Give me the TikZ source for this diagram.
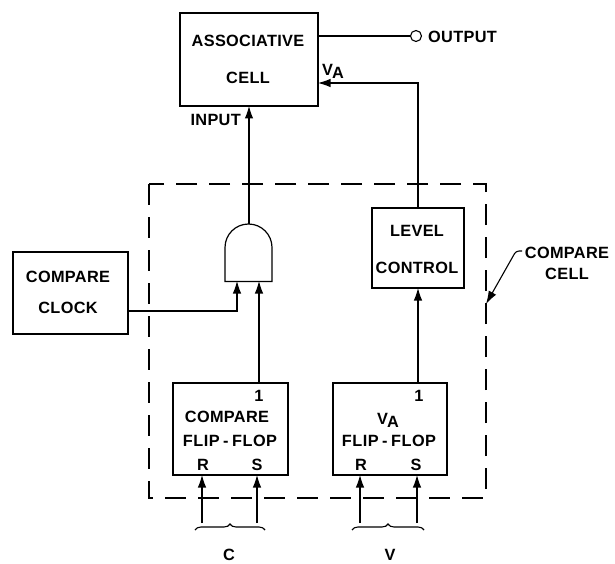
\documentclass[tikz,border=0pt]{standalone}
\usepackage{fontspec}
\setmainfont{Liberation Sans}
\usetikzlibrary{arrows.meta,decorations.pathreplacing,calc}
\newcommand{\flipflop}{{\addfontfeature{LetterSpace=3}FLIP\kern3.5pt-\kern3.5pt FLOP}}
\tikzset{
  blockbox/.style={draw,line width=1.2pt,inner sep=0pt,outer sep=0pt},
  lbl/.style={inner sep=0pt,font=\fontsize{16.3}{18}\selectfont\bfseries\addfontfeature{LetterSpace=2},align=center},
  wire/.style={line width=1.1pt},
  arrowed/.style={line width=1.1pt,-{Latex[length=12.5pt,width=8.5pt]}},
  dashbox/.style={line width=1.1pt,dash pattern=on 21pt off 12pt},
  bracket/.style={line width=1.1pt,decorate,decoration={brace,amplitude=6pt,mirror}}
}
\begin{document}
\begin{tikzpicture}[x=1pt,y=-1pt]
\useasboundingbox (0,0) rectangle (615,564);
\fill[white] (0,0) rectangle (615,564);
% dashed compare cell
\node[inner sep=0pt,outer sep=0pt,minimum width=337pt,minimum height=314pt] (cellbox) at (317.5,341) {};
\draw[dashbox] (cellbox.north west) rectangle (cellbox.south east);
% blocks
\node[blockbox,minimum width=138pt,minimum height=93pt] (assoc) at (249,59.5) {};
\node[blockbox,minimum width=115pt,minimum height=82pt] (clock) at (70.5,293) {};
\node[blockbox,minimum width=92pt,minimum height=80pt] (level) at (418,248) {};
\node[blockbox,minimum width=115pt,minimum height=92pt] (cff) at (230.5,429) {};
\node[blockbox,minimum width=114pt,minimum height=92pt] (vff) at (390,429) {};
% AND gate
\node[inner sep=0pt,outer sep=0pt,minimum width=47pt,minimum height=58pt] (gate) at (248.5,252.5) {};
\draw[line width=1.2pt] (gate.south west) -- (225,247.5) arc[start angle=180,end angle=0,x radius=23.5pt,y radius=23.5pt] -- (gate.south east) -- cycle;
% texts
\node[lbl] (t1) at (248,41) {ASSOCIATIVE};
\node[lbl] (t2) at (248,78) {CELL};
\node[lbl] (t3) at (68,277) {COMPARE};
\node[lbl] (t4) at (68,308) {CLOCK};
\node[lbl] (t5) at (417,231) {LEVEL};
\node[lbl] (t6) at (417,268) {CONTROL};
\node[lbl] (t7) at (227,417) {COMPARE};
\node[lbl] (t8) at (230,441) {\flipflop};
\node[lbl] (t9) at (203,465) {R};
\node[lbl] (t10) at (257,465) {S};
\node[lbl] (t11) at (259,396) {1};
\node[lbl] (t12) at (388,420) {V\raisebox{-3pt}{\kern-1pt A}};
\node[lbl] (t13) at (389,441) {\flipflop};
\node[lbl] (t14) at (361,465) {R};
\node[lbl] (t15) at (416,465) {S};
\node[lbl] (t16) at (419,396) {1};
\node[lbl,anchor=west] (output) at (428,37) {OUTPUT};
\node[lbl] (va) at (333,71) {V\raisebox{-3pt}{\kern-1pt A}};
\node[lbl,anchor=east] (input) at (241,120) {INPUT};
\node[lbl] (t17) at (567,253) {COMPARE};
\node[lbl] (t18) at (567,274) {CELL};
\node[lbl] (clabel) at (229,555) {C};
\node[lbl] (vlabel) at (390,555) {V};
% output
\node[draw,circle,line width=1.1pt,minimum size=11pt,inner sep=0pt,outer sep=0pt] (outc) at (416,36) {};
\draw[wire] (assoc.east |- outc) -- (outc);
% connectors
\draw[arrowed] (gate.north -| assoc.south) -- (assoc.south);
\coordinate (vcorner) at (level.north |- 0,83);
\draw[arrowed] (level.north) -- (vcorner) -- (assoc.east |- vcorner);
\coordinate (gin1) at (237,281);
\coordinate (gin2) at (259,281);
\draw[arrowed] (clock.east |- 0,311) -- (gin1 |- 0,311) -- (gin1);
\draw[arrowed] (gin2 |- cff.north) -- (gin2);
\draw[arrowed] (level.south |- vff.north) -- (level.south);
% flip-flop inputs
\coordinate (c1) at (202,523); \coordinate (c2) at (257,523);
\coordinate (v1) at (360,523); \coordinate (v2) at (417,523);
\draw[arrowed] (c1) -- (c1 |- cff.south);
\draw[arrowed] (c2) -- (c2 |- cff.south);
\draw[arrowed] (v1) -- (v1 |- vff.south);
\draw[arrowed] (v2) -- (v2 |- vff.south);
% braces
\coordinate (bc1) at (195,530); \coordinate (bc2) at (265,530);
\coordinate (bv1) at (352,530); \coordinate (bv2) at (424,530);
\draw[bracket] (bc2) -- (bc1);
\draw[bracket] (bv2) -- (bv1);
% compare-cell pointer
\coordinate (ptr) at (522,251);
\coordinate (ptrtip) at (486,304);
\draw[line width=1.1pt,rounded corners=3pt,-{Latex[length=13pt,width=8.5pt]}] (ptr) -- (516,251) -- (ptrtip);
\end{tikzpicture}
\end{document}
